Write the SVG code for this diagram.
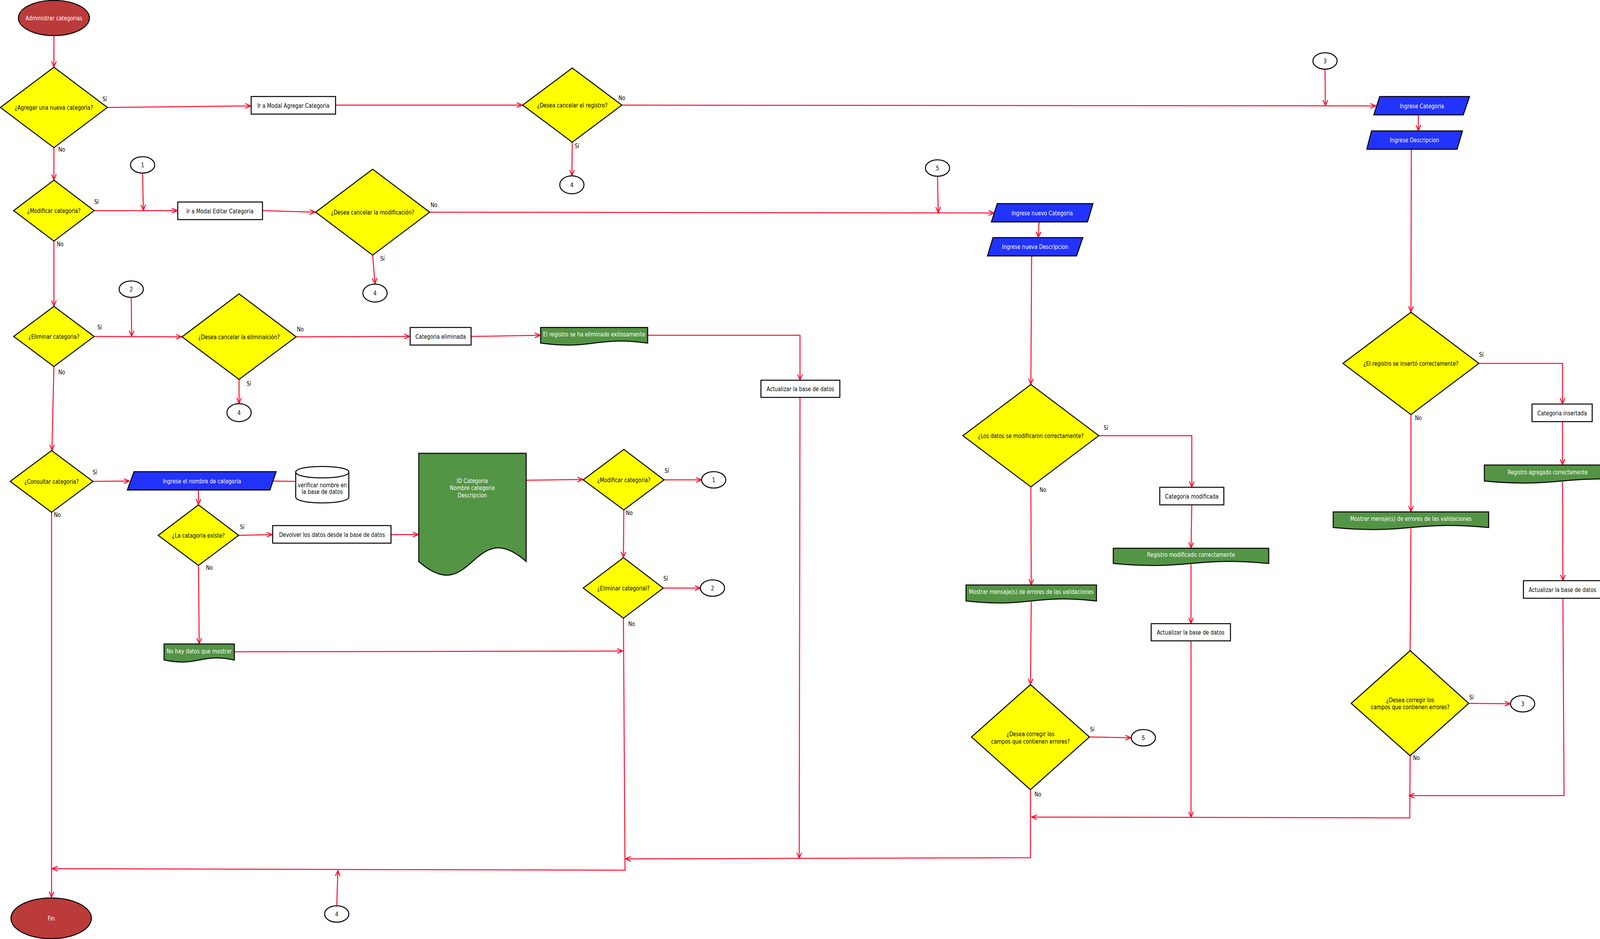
<svg xmlns="http://www.w3.org/2000/svg" width="4200" height="2403" viewBox="0 0 4200 2403">
<style>
.n{stroke:#000;stroke-width:2.5}
.term{fill:#bb3a3a}
.dec{fill:#ffff00}
.box{fill:#fff}
.inp{fill:#2233fb}
.doc{fill:#549445}
.con{fill:#fff}
.c{fill:none;stroke:#ff0a2d;stroke-width:2.5}
.ca{fill:none;stroke:#ff0a2d;stroke-width:2.5;marker-end:url(#a)}
text{font-family:"DejaVu Sans","Liberation Sans",sans-serif;font-size:16px;text-anchor:middle;fill:#000}
text.w{fill:#fff}
</style>
<defs>
<marker id="a" viewBox="0 0 16 14" refX="15" refY="7" markerWidth="16" markerHeight="14" markerUnits="userSpaceOnUse" orient="auto">
<path d="M1,1 L15,7 L1,13" fill="none" stroke="#ff0a2d" stroke-width="2.5"/>
</marker>
</defs>
<rect width="4200" height="2403" fill="#fff"/>

<g id="connectors">
<path class="ca" d="M138,92 L138,171"/>
<path class="ca" d="M275,275 L642,271"/>
<path class="ca" d="M859,269 L1337,269"/>
<path class="ca" d="M1592,269 L3522,271"/>
<path class="ca" d="M3392,177 L3393,270"/>
<path class="ca" d="M1465,364 L1464,449"/>
<path class="ca" d="M3631,294 L3631,334"/>
<path class="ca" d="M3613,382 L3612,798"/>
<path class="ca" d="M138,378 L138,460"/>
<path class="ca" d="M241,539 L454,539"/>
<path class="ca" d="M365,443 L367,538"/>
<path class="ca" d="M672,539 L807,543"/>
<path class="ca" d="M1100,543 L2545,545"/>
<path class="ca" d="M2400,451 L2402,544"/>
<path class="ca" d="M954,653 L960,726"/>
<path class="ca" d="M2660,568 L2658,607"/>
<path class="ca" d="M2641,655 L2639,983"/>
<path class="ca" d="M138,617 L138,783"/>
<path class="ca" d="M241,861 L465,862"/>
<path class="ca" d="M336,761 L337,860"/>
<path class="ca" d="M758,862 L1049,861"/>
<path class="ca" d="M612,971 L612,1032"/>
<path class="ca" d="M1206,861 L1383,858"/>
<path class="ca" d="M1658,858 L2048,858 L2048,972"/>
<path class="ca" d="M2048,1017 L2046,2196"/>
<path class="ca" d="M138,938 L133,1152"/>
<path class="ca" d="M238,1232 L331,1231"/>
<path class="c" d="M699,1231 L757,1232"/>
<path class="ca" d="M508,1254 L508,1291"/>
<path class="ca" d="M611,1370 L697,1368"/>
<path class="ca" d="M1001,1368 L1071,1368"/>
<path class="ca" d="M1347,1229 L1492,1227"/>
<path class="ca" d="M1700,1228 L1796,1228"/>
<path class="ca" d="M1597,1305 L1596,1426"/>
<path class="ca" d="M1698,1505 L1793,1505"/>
<path class="ca" d="M1596,1582 L1600,2227 L133,2223"/>
<path class="ca" d="M508,1447 L510,1647"/>
<path class="ca" d="M600,1668 L1594,1666"/>
<path class="ca" d="M132,1311 L132,2296"/>
<path class="ca" d="M862,2318 L865,2228"/>
<path class="ca" d="M2639,1246 L2640,1496"/>
<path class="ca" d="M2640,1540 L2638,1751"/>
<path class="ca" d="M2789,1886 L2895,1888"/>
<path class="ca" d="M2638,2021 L2638,2195 L1601,2198"/>
<path class="ca" d="M2813,1115 L3051,1115 L3051,1246"/>
<path class="ca" d="M3051,1292 L3049,1402"/>
<path class="ca" d="M3049,1444 L3049,1595"/>
<path class="ca" d="M3049,1640 L3049,2091"/>
<path class="ca" d="M3786,930 L4000,930 L4000,1033"/>
<path class="ca" d="M4000,1079 L4000,1189"/>
<path class="ca" d="M4000,1233 L4001,1485"/>
<path class="ca" d="M4001,1531 L4004,2036 L3607,2036"/>
<path class="ca" d="M3612,1061 L3612,1309"/>
<path class="c" d="M3612,1352 L3610,1665"/>
<path class="ca" d="M3760,1800 L3866,1801"/>
<path class="ca" d="M3610,1934 L3609,2093 L2641,2091"/>
<g id="labels">
<text transform="matrix(.8 0 0 1 268 259)">Sí</text>
<text transform="matrix(.8 0 0 1 158 388)">No</text>
<text transform="matrix(.8 0 0 1 1592 256)">No</text>
<text transform="matrix(.8 0 0 1 1477 379)">Sí</text>
<text transform="matrix(.8 0 0 1 247 522)">Sí</text>
<text transform="matrix(.8 0 0 1 154 630)">No</text>
<text transform="matrix(.8 0 0 1 1111 530)">No</text>
<text transform="matrix(.8 0 0 1 979 667)">Sí</text>
<text transform="matrix(.8 0 0 1 255 843)">Sí</text>
<text transform="matrix(.8 0 0 1 158 958)">No</text>
<text transform="matrix(.8 0 0 1 769 848)">No</text>
<text transform="matrix(.8 0 0 1 637 987)">Sí</text>
<text transform="matrix(.8 0 0 1 243 1214)">Sí</text>
<text transform="matrix(.8 0 0 1 147 1323)">No</text>
<text transform="matrix(.8 0 0 1 620 1354)">Sí</text>
<text transform="matrix(.8 0 0 1 536 1458)">No</text>
<text transform="matrix(.8 0 0 1 1707 1210)">Sí</text>
<text transform="matrix(.8 0 0 1 1611 1318)">No</text>
<text transform="matrix(.8 0 0 1 1704 1486)">Sí</text>
<text transform="matrix(.8 0 0 1 1617 1602)">No</text>
<text transform="matrix(.8 0 0 1 2831 1100)">Sí</text>
<text transform="matrix(.8 0 0 1 2670 1259)">No</text>
<text transform="matrix(.8 0 0 1 3792 913)">Sí</text>
<text transform="matrix(.8 0 0 1 3631 1075)">No</text>
<text transform="matrix(.8 0 0 1 2796 1872)">Sí</text>
<text transform="matrix(.8 0 0 1 2657 2038)">No</text>
<text transform="matrix(.8 0 0 1 3767 1790)">Sí</text>
<text transform="matrix(.8 0 0 1 3626 1945)">No</text>
</g>
</g>

<g id="nodes">
<g id="start"><ellipse class="n term" cx="138" cy="46" rx="91" ry="45"/><text class="w" transform="matrix(.8 0 0 1 138 52)">Administrar categorias</text></g>
<g id="d_agregar"><polygon class="n dec" points="138,172 275,275 138,378 1,275"/><text transform="matrix(.8 0 0 1 138 281)">¿Agregar una nueva categoria?</text></g>
<g id="box_agregar"><rect class="n box" x="643" y="247" width="216" height="45"/><text transform="matrix(.8 0 0 1 751 276)">Ir a Modal Agregar Categoria</text></g>
<g id="d_cancel_reg"><polygon class="n dec" points="1465,174 1592,269 1465,364 1338,269"/><text transform="matrix(.8 0 0 1 1465 275)">¿Desea cancelar el registro?</text></g>
<g id="c4a"><ellipse class="n con" cx="1464" cy="473" rx="31" ry="23"/><text transform="matrix(.8 0 0 1 1464 479)">4</text></g>
<g id="c3top"><ellipse class="n con" cx="3392" cy="156" rx="31" ry="21"/><text transform="matrix(.8 0 0 1 3392 162)">3</text></g>
<g id="p_ingCat"><polygon class="n inp" points="3532,247 3762,247 3746,294 3517,294"/><text class="w" transform="matrix(.8 0 0 1 3640 277)">Ingrese Categoria</text></g>
<g id="p_ingDesc"><polygon class="n inp" points="3511,335 3744,335 3730,382 3499,382"/><text class="w" transform="matrix(.8 0 0 1 3621 364)">Ingrese Descripcion</text></g>
<g id="d_modificar"><polygon class="n dec" points="138,461 241,539 138,617 35,539"/><text transform="matrix(.8 0 0 1 138 545)">¿Modificar categoria?</text></g>
<g id="c1"><ellipse class="n con" cx="365" cy="422" rx="31" ry="21"/><text transform="matrix(.8 0 0 1 365 428)">1</text></g>
<g id="box_editar"><rect class="n box" x="455" y="517" width="217" height="45"/><text transform="matrix(.8 0 0 1 563 546)">Ir a Modal Editar Categoria</text></g>
<g id="d_cancel_mod"><polygon class="n dec" points="954,433 1100,543 954,653 808,543"/><text transform="matrix(.8 0 0 1 954 549)">¿Desea cancelar la modificación?</text></g>
<g id="c4b"><ellipse class="n con" cx="960" cy="750" rx="31" ry="23"/><text transform="matrix(.8 0 0 1 960 756)">4</text></g>
<g id="c5top"><ellipse class="n con" cx="2400" cy="430" rx="31" ry="21"/><text transform="matrix(.8 0 0 1 2400 436)">5</text></g>
<g id="p_ingNuevoCat"><polygon class="n inp" points="2553,521 2798,521 2784,568 2538,568"/><text class="w" transform="matrix(.8 0 0 1 2668 551)">Ingrese nuevo Categoria</text></g>
<g id="p_ingNuevaDesc"><polygon class="n inp" points="2542,608 2772,608 2756,655 2528,655"/><text class="w" transform="matrix(.8 0 0 1 2650 637)">Ingrese nueva Descripcion</text></g>
<g id="d_eliminar"><polygon class="n dec" points="138,784 241,861 138,938 35,861"/><text transform="matrix(.8 0 0 1 138 867)">¿Eliminar categoria?</text></g>
<g id="c2"><ellipse class="n con" cx="336" cy="740" rx="31" ry="21"/><text transform="matrix(.8 0 0 1 336 746)">2</text></g>
<g id="d_cancel_elim"><polygon class="n dec" points="612,752 758,862 612,971 466,862"/><text transform="matrix(.8 0 0 1 612 868)">¿Desea cancelar la eliminaición?</text></g>
<g id="c4c"><ellipse class="n con" cx="612" cy="1056" rx="31" ry="23"/><text transform="matrix(.8 0 0 1 612 1062)">4</text></g>
<g id="box_elim"><rect class="n box" x="1050" y="838" width="156" height="45"/><text transform="matrix(.8 0 0 1 1128 867)">Categoria eliminada</text></g>
<g id="doc_elim"><path class="n doc" d="M1384,838 H1658 V878 C1521,860 1521,896 1384,878 Z"/><text class="w" transform="matrix(.8 0 0 1 1521 861)">El registro se ha eliminado exitosamente</text></g>
<g id="box_act1"><rect class="n box" x="1948" y="973" width="202" height="44"/><text transform="matrix(.8 0 0 1 2049 1001)">Actualizar la base de datos</text></g>
<g id="d_losdatos"><polygon class="n dec" points="2639,984 2813,1115 2639,1246 2465,1115"/><text transform="matrix(.8 0 0 1 2639 1121)">¿Los datos se modificaron correctamente?</text></g>
<g id="d_elreg"><polygon class="n dec" points="3612,799 3786,930 3612,1061 3438,930"/><text transform="matrix(.8 0 0 1 3612 936)">¿El registro se insertó correctamente?</text></g>
<g id="box_catIns"><rect class="n box" x="3922" y="1034" width="154" height="45"/><text transform="matrix(.8 0 0 1 3999 1063)">Categoria insertada</text></g>
<g id="doc_regAgr"><path class="n doc" d="M3800,1190 H4198 V1231 C3999,1213 3999,1249 3800,1231 Z"/><text class="w" transform="matrix(.76 0 0 1 3962 1214)">Registro agregado correctamente</text></g>
<g id="doc_mostrar_r"><path class="n doc" d="M3413,1310 H3811 V1350 C3612,1332 3612,1368 3413,1350 Z"/><text class="w" transform="matrix(.8 0 0 1 3612 1333)">Mostrar mensje(s) de errores de las validaciones</text></g>
<g id="box_catMod"><rect class="n box" x="2969" y="1247" width="164" height="45"/><text transform="matrix(.8 0 0 1 3051 1276)">Categoria modificada</text></g>
<g id="doc_regMod"><path class="n doc" d="M2850,1403 H3248 V1442 C3049,1424 3049,1460 2850,1442 Z"/><text class="w" transform="matrix(.8 0 0 1 3049 1425)">Registro modificado correctamente</text></g>
<g id="d_consultar"><polygon class="n dec" points="132,1153 238,1232 132,1311 26,1232"/><text transform="matrix(.8 0 0 1 132 1238)">¿Consultar categoria?</text></g>
<g id="p_ingNombre"><polygon class="n inp" points="343,1207 707,1207 691,1254 326,1254"/><text class="w" transform="matrix(.8 0 0 1 517 1237)">Ingrese el nombre de categoria</text></g>
<g id="db"><path class="n box" d="M757,1208 C757,1189 893,1189 893,1208 V1272 C893,1292 757,1292 757,1272 Z"/><path class="n" fill="none" d="M757,1208 C757,1228 893,1228 893,1208"/><text transform="matrix(.8 0 0 1 825 1247)">verificar nombre en</text><text transform="matrix(.8 0 0 1 825 1264)">la base de datos</text></g>
<g id="d_existe"><polygon class="n dec" points="508,1292 611,1370 508,1447 405,1370"/><text transform="matrix(.8 0 0 1 508 1376)">¿La catagoria existe?</text></g>
<g id="box_devolver"><rect class="n box" x="698" y="1345" width="303" height="45"/><text transform="matrix(.8 0 0 1 850 1374)">Devolver los datos desde la base de datos</text></g>
<g id="doc_big"><path class="n doc" d="M1072,1160 H1347 V1437 C1209.5,1316 1209.5,1558 1072,1437 Z"/><text class="w" transform="matrix(.8 0 0 1 1209 1236)">ID Categoria</text><text class="w" transform="matrix(.8 0 0 1 1209 1254)">Nombre categoria</text><text class="w" transform="matrix(.8 0 0 1 1209 1273)">Descripcion</text></g>
<g id="d_modificar2"><polygon class="n dec" points="1597,1150 1700,1228 1597,1305 1493,1228"/><text transform="matrix(.8 0 0 1 1597 1234)">¿Modificar categoria?</text></g>
<g id="c1b"><ellipse class="n con" cx="1827" cy="1228" rx="31" ry="21"/><text transform="matrix(.8 0 0 1 1827 1234)">1</text></g>
<g id="d_eliminar2"><polygon class="n dec" points="1596,1427 1698,1505 1596,1582 1493,1505"/><text transform="matrix(.8 0 0 1 1596 1511)">¿Eliminar categorial?</text></g>
<g id="c2b"><ellipse class="n con" cx="1824" cy="1505" rx="31" ry="21"/><text transform="matrix(.8 0 0 1 1824 1511)">2</text></g>
<g id="doc_nohay"><path class="n doc" d="M420,1648 H600 V1689 C510,1671 510,1707 420,1689 Z"/><text class="w" transform="matrix(.8 0 0 1 510 1672)">No hay datos que mostrar</text></g>
<g id="doc_mostrar_l"><path class="n doc" d="M2473,1497 H2807 V1538 C2640,1520 2640,1556 2473,1538 Z"/><text class="w" transform="matrix(.8 0 0 1 2640 1520)">Mostrar mensaje(s) de errores de las validaciones</text></g>
<g id="box_act2"><rect class="n box" x="2947" y="1596" width="203" height="44"/><text transform="matrix(.8 0 0 1 3048 1624)">Actualizar la base de datos</text></g>
<g id="box_act3"><rect class="n box" x="3900" y="1486" width="201" height="45"/><text transform="matrix(.8 0 0 1 4000 1515)">Actualizar la base de datos</text></g>
<g id="d_corregir_l"><polygon class="n dec" points="2638,1752 2789,1886 2638,2021 2487,1886"/><text transform="matrix(.8 0 0 1 2638 1884)">¿Desea corregir los</text><text transform="matrix(.8 0 0 1 2638 1903)">campos que contienen errores?</text></g>
<g id="c5b"><ellipse class="n con" cx="2927" cy="1888" rx="31" ry="21"/><text transform="matrix(.8 0 0 1 2927 1894)">5</text></g>
<g id="d_corregir_r"><polygon class="n dec" points="3610,1665 3760,1800 3610,1934 3459,1800"/><text transform="matrix(.8 0 0 1 3610 1797)">¿Desea corregir los</text><text transform="matrix(.8 0 0 1 3610 1815)">campos que contienen errores?</text></g>
<g id="c3b"><ellipse class="n con" cx="3898" cy="1801" rx="31" ry="21"/><text transform="matrix(.8 0 0 1 3898 1807)">3</text></g>
<g id="fin"><ellipse class="n term" cx="131" cy="2350" rx="103" ry="52"/><text class="w" transform="matrix(.8 0 0 1 131 2356)">Fin</text></g>
<g id="c4d"><ellipse class="n con" cx="862" cy="2339" rx="31" ry="21"/><text transform="matrix(.8 0 0 1 862 2345)">4</text></g>
</g>
</svg>
